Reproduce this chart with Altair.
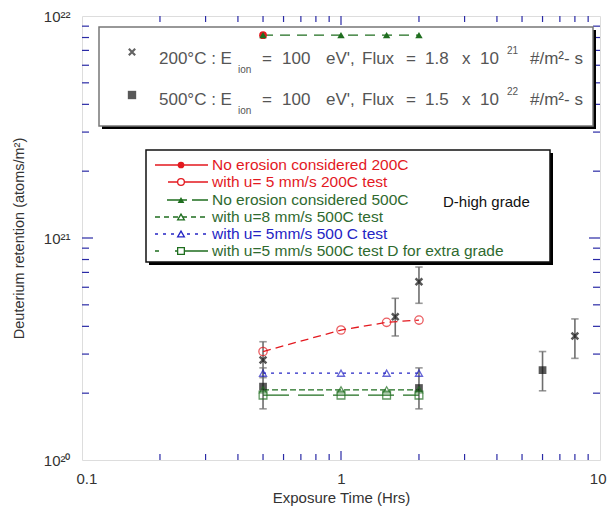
import altair as alt
import pandas as pd

# ---------------- data ----------------
pts_x = [0.5, 1.0, 1.5, 2.0]
red_nc_x = [0.5]
red_nc_y = [8.2e21]
green_nc_y = [8.2e21, 8.2e21, 8.2e21, 8.2e21]
red_u5_y = [3.08e20, 3.85e20, 4.17e20, 4.27e20]
blue_u5_y = [2.46e20, 2.46e20, 2.46e20, 2.46e20]
green_u8_y = [2.07e20, 2.07e20, 2.07e20, 2.07e20]
green_u5_y = [1.96e20, 1.96e20, 1.96e20, 1.96e20]

cross_x = [0.5, 1.62, 2.0, 8.0]
cross_y = [2.82e20, 4.42e20, 6.35e20, 3.62e20]
cross_lo = [2.35e20, 3.62e20, 5.08e20, 2.87e20]
cross_hi = [3.41e20, 5.35e20, 7.4e20, 4.32e20]

sq_x = [0.5, 2.0, 6.0]
sq_y = [2.14e20, 2.11e20, 2.54e20]
sq_lo = [1.70e20, 1.70e20, 2.05e20]
sq_hi = [2.60e20, 2.60e20, 3.08e20]

x_ticks = [0.1, 1, 10]
y_ticks = [1e20, 1e21, 1e22]
x_minor = [0.2, 0.3, 0.4, 0.5, 0.6, 0.7, 0.8, 0.9, 2, 3, 4, 5, 6, 7, 8, 9]
x_major = [1]
y_minor = [2e20, 3e20, 4e20, 5e20, 6e20, 7e20, 8e20, 9e20,
           2e21, 3e21, 4e21, 5e21, 6e21, 7e21, 8e21, 9e21]
y_major = [1e21]

# ---------------- style ----------------
W, H = 518, 444
NAVY = "#2a2aa6"
RED = "#e3191f"
GREEN = "#1f6e1f"
BLUE = "#2424c4"
FONT = "Liberation Sans"

xscale = alt.Scale(type="log", domain=[0.1, 10])
yscale = alt.Scale(type="log", domain=[1e20, 1e22])

xaxis = alt.Axis(values=x_ticks, format="~g", tickSize=0, domain=False, grid=False,
                 labelFont=FONT, labelFontSize=15, labelColor="#333", labelPadding=11,
                 title="Exposure Time (Hrs)", titleFont=FONT, titleFontSize=15,
                 titleFontWeight="normal", titleColor="#333", titlePadding=4,
                 labelFlush=True, labelFlushOffset=6)
yaxis = alt.Axis(values=y_ticks, tickSize=0, domain=False, grid=False,
                 labelExpr="datum.value >= 5e21 ? '10²²' : (datum.value >= 5e20 ? '10²¹' : '10²⁰')",
                 labelFont=FONT, labelFontSize=15, labelColor="#333", labelPadding=12,
                 title="Deuterium retention (atoms/m²)", titleFont=FONT, titleFontSize=14.5,
                 titleFontWeight="normal", titleColor="#333", titlePadding=17,
                 labelFlush=False)


def X(f):
    return alt.X(f, type="quantitative", scale=xscale, axis=xaxis)


def Y(f):
    return alt.Y(f, type="quantitative", scale=yscale, axis=yaxis)


layers = []

# ---------------- ticks (inward) ----------------
dxmin = pd.DataFrame({"v": x_minor})
dxmaj = pd.DataFrame({"v": x_major})
dymin = pd.DataFrame({"v": y_minor})
dymaj = pd.DataFrame({"v": y_major})
for d, ln in [(dxmin, 6), (dxmaj, 9)]:
    layers.append(alt.Chart(d).mark_rule(color=NAVY, strokeWidth=1.2).encode(
        x=X("v"), y=alt.value(H), y2=alt.value(H - ln)))
    layers.append(alt.Chart(d).mark_rule(color=NAVY, strokeWidth=1.2).encode(
        x=X("v"), y=alt.value(0), y2=alt.value(ln)))
for d, ln in [(dymin, 7), (dymaj, 11)]:
    layers.append(alt.Chart(d).mark_rule(color=NAVY, strokeWidth=1.2).encode(
        y=Y("v"), x=alt.value(0), x2=alt.value(ln)))
    layers.append(alt.Chart(d).mark_rule(color=NAVY, strokeWidth=1.2).encode(
        y=Y("v"), x=alt.value(W), x2=alt.value(W - ln)))

one = pd.DataFrame({"a": [0]})

# ---------------- legend boxes ----------------
def box(x1, y1, x2, y2, stroke):
    sh = alt.Chart(one).mark_rect(color="black").encode(
        x=alt.value(x1 + 3), x2=alt.value(x2 + 3), y=alt.value(y1 + 3), y2=alt.value(y2 + 3))
    fr = alt.Chart(one).mark_rect(fill="white", stroke=stroke, strokeWidth=1.5).encode(
        x=alt.value(x1), x2=alt.value(x2), y=alt.value(y1), y2=alt.value(y2))
    return [sh, fr]

layers += box(17, 11, 511, 110, "#777777")
layers += box(64, 134, 468, 246, "#111111")

# box 1 text tokens
def txt(s, x, y, size=17, color="#555555"):
    return alt.Chart(one).mark_text(text=s, align="left", baseline="middle", font=FONT,
                                    fontSize=size, color=color).encode(
        x=alt.value(x), y=alt.value(y))

for (yy, temp, flux, exp) in [(43, "200°C : E", "1.8", "21"), (84, "500°C : E", "1.5", "22")]:
    layers.append(txt(temp, 77, yy))
    layers.append(txt("ion", 156, yy + 11, 10))
    layers.append(txt("=", 180, yy))
    layers.append(txt("100", 200, yy))
    layers.append(txt("eV',", 244, yy))
    layers.append(txt("Flux", 280, yy))
    layers.append(txt("=", 324, yy))
    layers.append(txt(flux, 343, yy))
    layers.append(txt("x", 380, yy))
    layers.append(txt("10", 398, yy))
    layers.append(txt(exp, 425, yy - 8, 10))
    layers.append(txt("#/m²- s", 448, yy))

layers.append(alt.Chart(one).mark_point(shape="M-1,-1L1,1M1,-1L-1,1", size=40, filled=False,
                                        color="#222", strokeWidth=2.2).encode(
    x=alt.value(50), y=alt.value(36)))
layers.append(alt.Chart(one).mark_point(shape="square", size=70, filled=True, color="#111").encode(
    x=alt.value(50), y=alt.value(79)))

# box 2 legend rows
rows = [
    ("No erosion considered 200C", RED, [1, 0], 73, "circle", True),
    ("with u= 5 mm/s 200C test", RED, [1, 0], 86, "circle", False),
    ("No erosion considered 500C", GREEN, [20, 5], 85, "triangle-up", True),
    ("with u=8 mm/s 500C test", GREEN, [5, 4], 73, "triangle-up", False),
    ("with u= 5mm/s 500 C test", BLUE, [3, 5], 73, "triangle-up", False),
    ("with u=5 mm/s 500C test D for extra grade", GREEN, [4, 16, 40, 0], 73, "square", False),
]
row_y = [149, 166, 184, 201, 218, 235]
for (lab, col, dash, x0, shp, fil), yy in zip(rows, row_y):
    layers.append(alt.Chart(one).mark_rule(color=col, strokeWidth=1.3, strokeDash=dash).encode(
        x=alt.value(x0), x2=alt.value(126), y=alt.value(yy)))
    layers.append(alt.Chart(one).mark_point(shape=shp, size=45, filled=fil, color=col,
                                            fill=col if fil else "white", strokeWidth=1.3,
                                            opacity=1).encode(
        x=alt.value(99), y=alt.value(yy)))
    tcol = {RED: RED, GREEN: "#2f6a2f", BLUE: BLUE}[col]
    layers.append(txt(lab, 130, yy, 15.5, tcol))
layers.append(txt("D-high grade", 361, 186, 15, "#111"))

# ---------------- data series ----------------
d_red_nc = pd.DataFrame({"x": red_nc_x, "y": red_nc_y})
d_green_nc = pd.DataFrame({"x": pts_x, "y": green_nc_y})
d_red_u5 = pd.DataFrame({"x": pts_x, "y": red_u5_y})
d_blue_u5 = pd.DataFrame({"x": pts_x, "y": blue_u5_y})
d_green_u8 = pd.DataFrame({"x": pts_x, "y": green_u8_y})
d_green_u5 = pd.DataFrame({"x": pts_x, "y": green_u5_y})
d_cross = pd.DataFrame({"x": cross_x, "y": cross_y, "lo": cross_lo, "hi": cross_hi})
d_sq = pd.DataFrame({"x": sq_x, "y": sq_y, "lo": sq_lo, "hi": sq_hi})

# error bars
for d in (d_sq, d_cross):
    layers.append(alt.Chart(d).mark_rule(color="#6e6e6e", strokeWidth=1.6).encode(
        x=X("x"), y=Y("lo"), y2="hi"))
    for f in ("lo", "hi"):
        layers.append(alt.Chart(d).mark_point(shape="M-1,0L1,0", size=55, filled=False,
                                              color="#6e6e6e", strokeWidth=1.6).encode(
            x=X("x"), y=Y(f)))

# lines
for d, col, dash, sw in [(d_red_u5, RED, [8, 5], 1.3), (d_blue_u5, BLUE, [3, 5], 1.3),
                         (d_green_u8, GREEN, [6, 3], 1.2), (d_green_u5, GREEN, [26, 9], 1.3),
                         (d_green_nc, GREEN, [10, 7], 1.2)]:
    layers.append(alt.Chart(d).mark_line(color=col, strokeDash=dash, strokeWidth=sw).encode(
        x=X("x"), y=Y("y")))

# markers
layers.append(alt.Chart(d_sq).mark_point(shape="square", size=60, filled=True, color="#111").encode(
    x=X("x"), y=Y("y")))
layers.append(alt.Chart(d_cross).mark_point(shape="M-1,-1L1,1M1,-1L-1,1", size=45, filled=False,
                                            color="#111", strokeWidth=2.5).encode(
    x=X("x"), y=Y("y")))
layers.append(alt.Chart(d_green_u5).mark_point(shape="square", size=60, filled=False, color=GREEN,
                                               strokeWidth=1.3).encode(x=X("x"), y=Y("y")))
layers.append(alt.Chart(d_green_u8).mark_point(shape="triangle-up", size=50, filled=False, color=GREEN,
                                               strokeWidth=1.3).encode(x=X("x"), y=Y("y")))
layers.append(alt.Chart(d_blue_u5).mark_point(shape="triangle-up", size=50, filled=False, color=BLUE,
                                              strokeWidth=1.3).encode(x=X("x"), y=Y("y")))
layers.append(alt.Chart(d_red_u5).mark_point(shape="circle", size=70, filled=False, color=RED,
                                             strokeWidth=1.3).encode(x=X("x"), y=Y("y")))
layers.append(alt.Chart(d_red_nc).mark_point(shape="circle", size=60, filled=True, color=RED,
                                             opacity=1).encode(x=X("x"), y=Y("y")))
layers.append(alt.Chart(d_green_nc).mark_point(shape="triangle-up", size=55, filled=True, color=GREEN,
                                               opacity=1).encode(x=X("x"), y=Y("y")))

chart = alt.layer(*layers).properties(
    width=W, height=H,
    autosize=alt.AutoSizeParams(type="none"),
    padding={"left": 82, "top": 16, "right": 7, "bottom": 53},
).configure_view(stroke=NAVY, strokeWidth=1.5).configure(background="white")

chart.save("out.html", embed_options={"renderer": "svg", "actions": False})
